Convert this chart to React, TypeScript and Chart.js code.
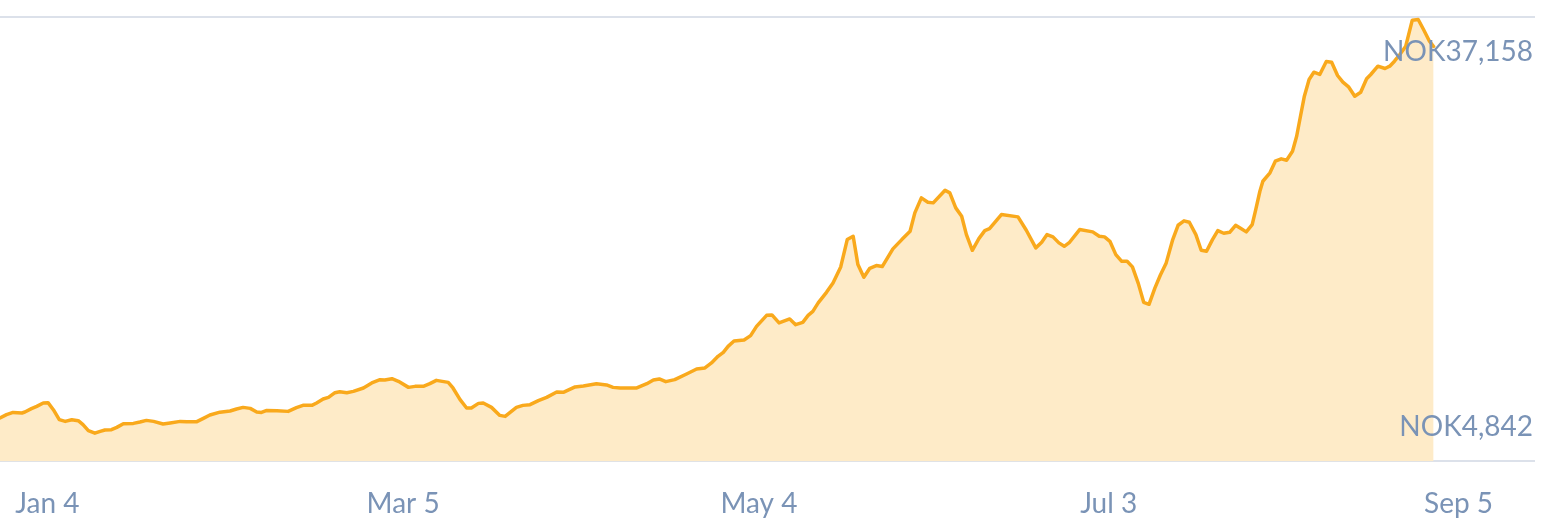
import React, { useEffect, useRef } from "react";
import { Chart, registerables } from "chart.js";

Chart.register(...registerables);

// Days since start of the series (fractional: sample timestamps)
const days = [
  0, 1.1, 2.2, 3.7, 4.2, 5.3, 6.2, 7.3, 8.1, 9.0, 10.0, 11.0, 12.1, 13.2, 14.0, 14.9,
  16.0, 16.9, 17.7, 18.8, 19.7, 20.8, 22.5, 23.6, 24.7, 25.9, 27.5, 28.7, 30.4, 31.5,
  33.2, 34.3, 35.4, 37.1, 38.8, 39.9, 41.0, 42.2, 43.3, 44.1, 45.0, 46.7, 48.6, 50.0,
  51.1, 52.6, 53.4, 54.5, 55.4, 56.5, 57.3, 58.5, 59.6, 61.3, 62.7, 64.1, 64.9, 66.1,
  67.2, 68.9, 70.0, 71.4, 72.5, 73.6, 75.6, 76.4, 77.6, 78.7, 79.5, 80.7, 81.5, 82.9,
  84.3, 85.2, 87.1, 88.2, 89.4, 90.8, 92.2, 93.9, 95.0, 97.0, 98.4, 100.6, 102.3, 103.4,
  104.6, 107.4, 109.1, 110.2, 111.2, 112.3, 113.8, 115.8, 117.5, 118.9, 120.0, 121.1,
  122.0, 122.8, 123.8, 125.5, 126.6, 127.6, 129.3, 130.2, 131.4, 133.2, 134.2, 135.4,
  136.3, 137.1, 138.0, 139.4, 140.5, 141.8, 142.9, 143.9, 144.7, 145.7, 146.7, 147.8,
  148.8, 150.6, 152.1, 153.5, 154.3, 155.4, 156.5, 157.4, 159.4, 160.2, 161.2, 162.2,
  163.0, 164.0, 165.1, 166.1, 166.9, 168.9, 171.7, 173.1, 174.7, 175.7, 176.6, 177.6,
  178.6, 179.5, 180.4, 182.1, 184.3, 185.4, 186.3, 187.2, 188.2, 189.2, 190.1, 191.0,
  192.0, 192.9, 193.8, 194.8, 195.7, 196.7, 197.8, 198.7, 199.7, 200.6, 201.7, 202.6,
  203.5, 204.5, 205.4, 206.4, 207.4, 208.4, 209.3, 210.2, 211.2, 211.8, 212.5, 213.0,
  214.2, 215.1, 216.1, 217.0, 218.0, 218.7, 219.4, 220.0, 220.8, 221.6, 222.6, 223.7,
  224.6, 225.6, 226.5, 227.5, 228.5, 229.5, 230.5, 231.2, 232.4, 233.6, 234.4, 235.2,
  236.1, 237.1, 238.2, 239.2, 240.1, 241.1, 241.8,
];

// Price in NOK
const prices = [
  6031, 6289, 6468, 6422, 6500, 6758, 6937, 7203, 7227, 6679, 5898, 5765, 5898, 5820, 5507, 5038,
  4842, 4984, 5093, 5117, 5296, 5585, 5608, 5718, 5843, 5765, 5562, 5640, 5765, 5742,
  5742, 6000, 6265, 6484, 6578, 6734, 6859, 6781, 6500, 6468, 6625, 6601, 6547, 6836,
  7016, 7016, 7203, 7516, 7641, 8008, 8086, 8008, 8110, 8375, 8766, 9024, 9000, 9102,
  8891, 8422, 8500, 8500, 8711, 8969, 8813, 8375, 7461, 6812, 6812, 7172, 7203, 6859,
  6234, 6156, 6859, 7016, 7070, 7383, 7641, 8063, 8032, 8454, 8532, 8711, 8610, 8422,
  8375, 8375, 8711, 9000, 9079, 8868, 9024, 9470, 9860, 9938, 10329, 10845,
  11158, 11626, 12048, 12127, 12463, 13189, 14049, 14081, 13455, 13768, 13322, 13502,
  14049, 14362, 15018, 15847, 16581, 17831, 19965, 20223, 18011, 17019, 17722, 17933,
  17855, 19238, 19965, 20614, 22052, 23224, 22880, 22833, 23818, 23615, 22442, 21786,
  20356, 19129, 20043, 20668, 20825, 21919, 21739, 20691, 19316, 19754, 20356, 20176,
  19707, 19441, 19754, 20746, 20567, 20223, 20176, 19832, 18793, 18269, 18269, 17832,
  16526, 15065, 14909, 16190, 17175, 18144, 19965, 21083, 21426, 21317, 20356, 19129,
  19051, 19965, 20668, 20458, 20536, 21083, 20825, 20567, 21137, 22309, 23740, 24521,
  25177, 26084, 26272, 26162, 26866, 28038, 29734, 31164, 32469, 33039, 32860, 33876,
  33821, 32782, 32258, 31867, 31164, 31476, 32524, 32860, 33508, 33329, 33508, 33899,
  34423, 35071, 37103, 37158, 36376, 35462, 35048,
];

const tickDays = [8, 68, 128, 187, 246];
const tickLabels = ["Jan 4", "Mar 5", "May 4", "Jul 3", "Sep 5"];
const currency = "NOK";

const LINE = "#f9a91c";
const FILL = "#feebc8";
const TEXT = "#7a93b6";
const GRID = "#dce1ea";
const FONT = "Lato";

const minMaxLabels = {
  id: "minMaxLabels",
  afterDatasetsDraw(chart: any) {
    const { ctx, chartArea } = chart;
    const hi = Math.max(...prices);
    const lo = Math.min(...prices);
    ctx.save();
    ctx.font = `28px ${FONT}`;
    ctx.fillStyle = TEXT;
    ctx.textAlign = "right";
    ctx.textBaseline = "alphabetic";
    ctx.fillText(currency + hi.toLocaleString("en-US"), chartArea.right - 2, chartArea.top + 43.5);
    ctx.fillText(currency + lo.toLocaleString("en-US"), chartArea.right - 2, chartArea.bottom - 25);
    ctx.restore();
  },
};

export default function App() {
  const ref = useRef<HTMLCanvasElement>(null);

  useEffect(() => {
    if (!ref.current) return;
    const data = days.map((d, i) => ({ x: d, y: prices[i] }));
    const chart = new Chart(ref.current, {
      type: "line",
      data: {
        datasets: [
          {
            data,
            borderColor: LINE,
            backgroundColor: FILL,
            borderWidth: 3.5,
            fill: "start",
            tension: 0,
            pointRadius: 0,
            borderJoinStyle: "round",
            borderCapStyle: "round",
          },
        ],
      },
      options: {
        animation: false,
        responsive: false,
        events: [],
        layout: { padding: { left: 0, right: 20, top: 17, bottom: 6 } },
        plugins: { legend: { display: false }, tooltip: { enabled: false } },
        scales: {
          x: {
            type: "linear",
            min: 0,
            max: 258.9,
            afterBuildTicks: (s: any) => {
              s.ticks = tickDays.map((v) => ({ value: v }));
            },
            grid: {
              display: true,
              drawOnChartArea: false,
              drawTicks: true,
              tickLength: 22,
              color: "rgba(0,0,0,0)",
            },
            border: { display: false },
            ticks: {
              padding: 4,
              maxRotation: 0,
              autoSkip: false,
              color: TEXT,
              font: { family: FONT, size: 28 },
              callback: (_v: any, i: number) => tickLabels[i],
            },
          },
          y: {
            min: 2640,
            max: 37350,
            afterBuildTicks: (s: any) => {
              s.ticks = [{ value: 2640 }, { value: 37350 }];
            },
            ticks: { display: false },
            grid: { color: GRID, lineWidth: 2, drawTicks: false },
            border: { display: false },
          },
        },
      },
      plugins: [minMaxLabels],
    });
    return () => chart.destroy();
  }, []);

  return (
    <div style={{ position: "absolute", left: 0, top: 0, width: 1555, height: 531, background: "#fff" }}>
      <canvas ref={ref} width={1555} height={531} style={{ display: "block" }} />
    </div>
  );
}
